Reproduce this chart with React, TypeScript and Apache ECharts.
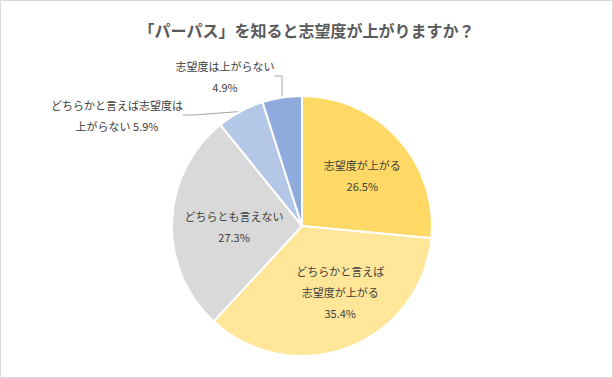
import React, { useEffect, useRef } from "react";
import * as echarts from "echarts";

const titleText = "「パーパス」を知ると志望度が上がりますか？";
const categories = [
  "志望度が上がる",
  "どちらかと言えば志望度が上がる",
  "どちらとも言えない",
  "どちらかと言えば志望度は上がらない",
  "志望度は上がらない",
];
const labelNames = [
  "志望度が上がる\n",
  "どちらかと言えば\n志望度が上がる\n",
  "どちらとも言えない\n",
  "どちらかと言えば志望度は\n上がらない ",
  "志望度は上がらない\n",
];
const values = [26.5, 35.4, 27.3, 5.9, 4.9];
const colors = ["#FFD966", "#FFE699", "#D9D9D9", "#B4C7E7", "#8FAADC"];

export default function App() {
  const ref = useRef<HTMLDivElement>(null);
  useEffect(() => {
    document.body.style.margin = "0";
    const chart = echarts.init(ref.current!, null, { renderer: "svg" });
    const font = '"Noto Sans CJK JP", "Noto Sans", sans-serif';
    const insideOffsets: Record<number, number[]> = {
      0: [10, -5],
      1: [14, 2],
      2: [0, 3],
    };
    const outsidePos: Record<number, number[]> = {
      3: [117, 115],
      4: [225, 76],
    };
    chart.setOption({
      animation: false,
      backgroundColor: "#ffffff",
      title: {
        text: titleText,
        left: "center",
        top: 17,
        textStyle: {
          fontFamily: font,
          fontSize: 16,
          fontWeight: "bold",
          color: "#595959",
        },
      },
      graphic: [
        {
          type: "rect",
          shape: { x: 0.5, y: 0.5, width: 612, height: 377 },
          style: { fill: "none", stroke: "#D9D9D9", lineWidth: 1 },
          silent: true,
        },
      ],
      series: [
        {
          type: "pie",
          center: [302, 226],
          radius: 130,
          startAngle: 90,
          clockwise: true,
          avoidLabelOverlap: false,
          itemStyle: { borderColor: "#ffffff", borderWidth: 2 },
          label: {
            fontFamily: font,
            fontSize: 11,
            lineHeight: 21,
            color: "#404040",
            align: "center",
            formatter: (p: any) =>
              labelNames[p.dataIndex] + values[p.dataIndex].toFixed(1) + "%",
          },
          labelLine: {
            lineStyle: { color: "#A6A6A6", width: 1 },
          },
          labelLayout: (p: any) => {
            const pos = outsidePos[p.dataIndex];
            if (pos) {
              return { x: pos[0], y: pos[1], align: "center", verticalAlign: "middle" };
            }
            const off = insideOffsets[p.dataIndex];
            if (off) return { dx: off[0], dy: off[1] };
            return {};
          },
          data: categories.map((name, i) => {
            const outside = i >= 3;
            return {
              name,
              value: values[i],
              itemStyle: { color: colors[i] },
              label: { position: outside ? "outside" : "inside" },
              labelLine: { show: outside, length: 10, length2: 10 },
            };
          }),
        },
      ],
    });
    return () => chart.dispose();
  }, []);
  return <div ref={ref} style={{ width: 613, height: 378 }} />;
}
